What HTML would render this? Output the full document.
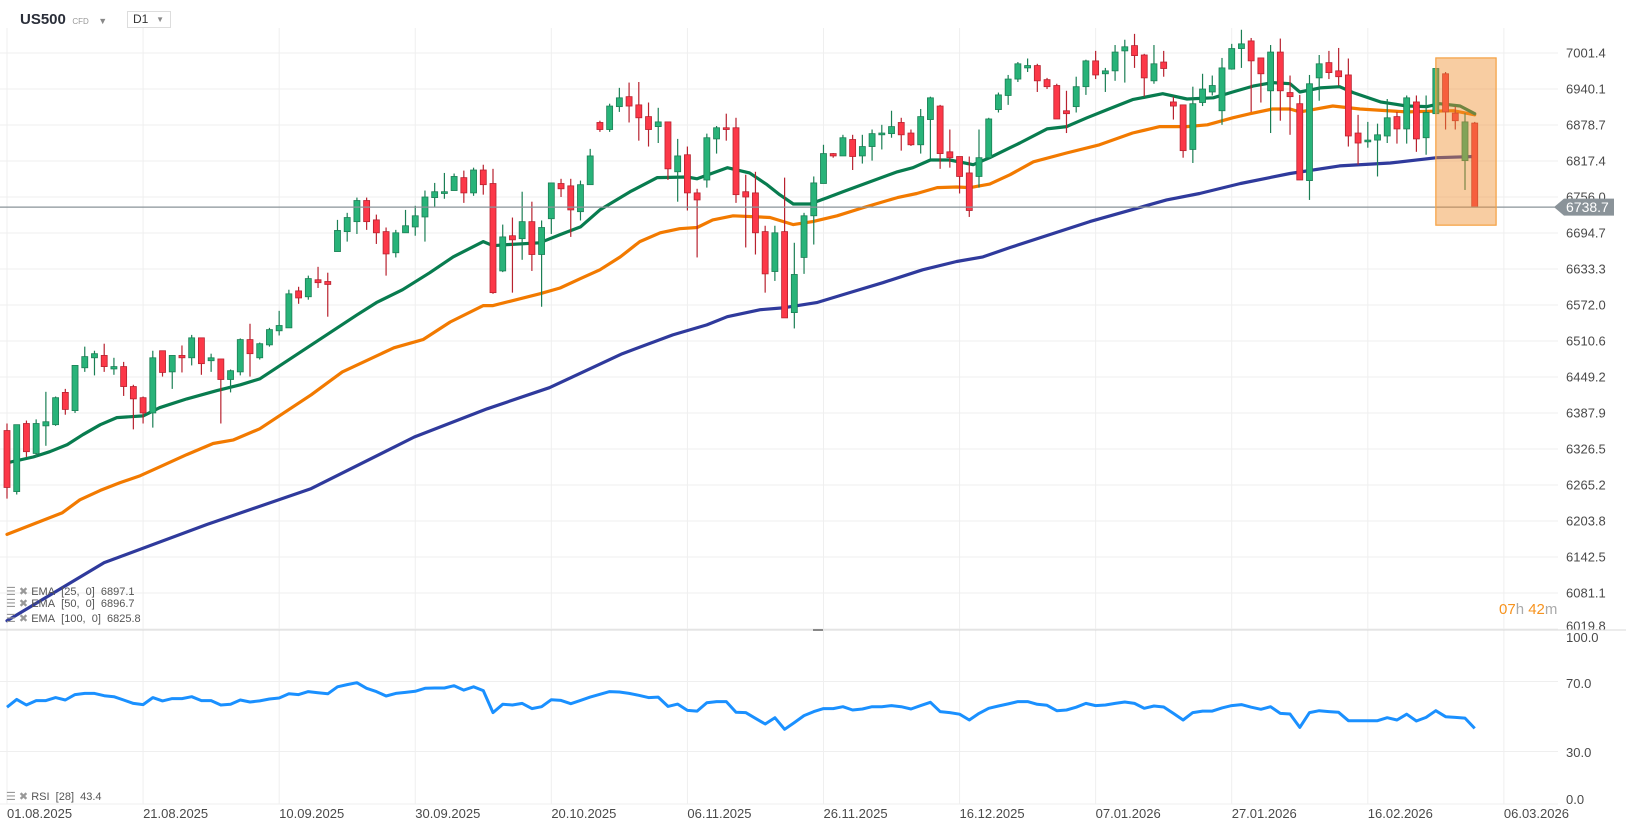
<!DOCTYPE html>
<html><head><meta charset="utf-8">
<style>
html,body{margin:0;padding:0;background:#fff;width:1626px;height:831px;overflow:hidden;font-family:"Liberation Sans",sans-serif;}
#chart{position:absolute;left:0;top:0;}
.hdr{position:absolute;font-family:"Liberation Sans",sans-serif;}
</style></head>
<body>
<svg id="chart" width="1626" height="831" xmlns="http://www.w3.org/2000/svg">
  <g id="grid"></g>
  <g id="ema"></g>
  <g id="candles"></g>
  <g id="rsi"></g>
  <g id="axes"></g>
</svg>
<div class="hdr" style="left:20px;top:10px;height:20px;line-height:20px;white-space:nowrap;">
  <span style="font-weight:bold;font-size:15px;color:#2a2e39;">US500</span>
  <span style="font-size:8px;color:#999;margin-left:2px;">CFD</span>
  <span style="font-size:9px;color:#888;margin-left:5px;">&#9660;</span>
</div>
<div class="hdr" style="left:127px;top:11px;width:42px;height:15px;border:1px solid #ddd;font-size:12px;color:#333;line-height:15px;">
  <span style="margin-left:5px;">D1</span><span style="position:absolute;right:6px;top:0;font-size:8px;color:#888;">&#9660;</span>
</div>
<div class="hdr" style="left:6px;top:585px;font-size:11px;color:#555;"><span style="color:#999">&#9776; &#10006;</span> EMA&nbsp; [25,&nbsp; 0]&nbsp; 6897.1</div>
<div class="hdr" style="left:6px;top:597px;font-size:11px;color:#555;"><span style="color:#999">&#9776; &#10006;</span> EMA&nbsp; [50,&nbsp; 0]&nbsp; 6896.7</div>
<div class="hdr" style="left:6px;top:612px;font-size:11px;color:#555;"><span style="color:#999">&#9776; &#10006;</span> EMA&nbsp; [100,&nbsp; 0]&nbsp; 6825.8</div>
<div class="hdr" style="left:6px;top:790px;font-size:11px;color:#555;"><span style="color:#999">&#9776; &#10006;</span> RSI&nbsp; [28]&nbsp; 43.4</div>
<div class="hdr" style="left:1499px;top:601px;font-size:15px;"><span style="color:#f7931e">07</span><span style="color:#aaa">h </span><span style="color:#f7931e">42</span><span style="color:#aaa">m</span></div>
<script>
const ohlc=[
[6358,6370,6242,6261],[6254,6368,6249,6368],[6370,6375,6313,6322],[6319,6377,6313,6370],[6366,6424,6332,6373],
[6368,6416,6366,6414],[6423,6429,6385,6394],[6392,6469,6388,6469],[6465,6501,6458,6484],[6482,6494,6452,6489],
[6486,6506,6458,6467],[6463,6482,6453,6467],[6467,6475,6417,6433],[6433,6436,6360,6412],[6414,6416,6370,6388],
[6388,6494,6363,6482],[6494,6494,6450,6457],[6458,6486,6429,6486],[6486,6503,6457,6482],[6482,6521,6469,6516],
[6516,6516,6453,6472],[6477,6489,6458,6482],[6480,6480,6370,6445],[6445,6462,6423,6460],[6458,6515,6452,6513],
[6513,6540,6450,6489],[6482,6508,6479,6506],[6504,6533,6501,6530],[6528,6562,6520,6537],[6533,6598,6533,6591],
[6596,6603,6574,6584],[6586,6622,6581,6617],[6615,6637,6601,6610],[6612,6627,6552,6607],[6663,6717,6663,6699],
[6697,6729,6680,6721],[6714,6755,6693,6750],[6750,6755,6700,6714],[6717,6726,6676,6695],[6697,6704,6622,6659],
[6661,6700,6653,6695],[6695,6734,6695,6707],[6705,6741,6690,6724],[6722,6767,6680,6756],[6755,6780,6739,6765],
[6762,6797,6753,6765],[6767,6796,6767,6791],[6789,6801,6746,6763],[6763,6806,6758,6802],[6802,6811,6760,6777],
[6779,6804,6591,6593],[6630,6709,6628,6688],[6690,6721,6593,6683],[6685,6765,6649,6714],[6714,6748,6630,6658],
[6658,6716,6569,6704],[6719,6780,6693,6780],[6779,6787,6756,6770],[6775,6787,6688,6734],[6731,6784,6716,6777],
[6777,6838,6777,6826],[6883,6886,6867,6871],[6871,6915,6867,6911],[6910,6942,6901,6925],[6927,6951,6883,6911],
[6913,6952,6852,6891],[6893,6917,6842,6871],[6876,6908,6848,6884],[6884,6884,6785,6804],[6799,6855,6748,6826],
[6828,6842,6733,6763],[6763,6770,6653,6751],[6785,6864,6772,6857],[6855,6877,6830,6874],[6874,6898,6852,6871],
[6874,6891,6746,6760],[6765,6794,6670,6756],[6763,6799,6658,6695],[6697,6707,6593,6625],[6629,6707,6613,6695],
[6697,6789,6550,6550],[6559,6678,6532,6624],[6653,6729,6625,6724],[6724,6791,6675,6780],[6779,6845,6779,6830],
[6830,6831,6823,6826],[6826,6862,6826,6857],[6854,6862,6802,6825],[6826,6862,6813,6842],[6842,6871,6818,6864],
[6862,6879,6837,6865],[6864,6903,6857,6876],[6883,6891,6835,6862],[6865,6871,6843,6845],[6845,6906,6830,6893],
[6888,6927,6821,6925],[6911,6913,6804,6830],[6833,6871,6806,6823],[6825,6825,6762,6791],[6797,6825,6722,6733],
[6791,6871,6772,6823],[6823,6891,6823,6889],[6905,6934,6900,6930],[6929,6964,6913,6957],[6957,6986,6952,6983],
[6976,6992,6969,6980],[6980,6983,6935,6954],[6956,6959,6940,6944],[6946,6949,6889,6889],[6903,6937,6865,6898],
[6910,6961,6900,6944],[6944,6990,6930,6988],[6988,7005,6957,6964],[6966,6976,6935,6971],[6971,7015,6954,7003],
[7005,7024,6951,7012],[7014,7034,6976,6997],[6998,7000,6927,6959],[6954,7015,6949,6983],[6986,7005,6961,6975],
[6918,6927,6888,6911],[6913,6913,6823,6835],[6837,6944,6814,6915],[6917,6966,6911,6940],[6935,6963,6929,6946],
[6903,6993,6879,6976],[6974,7017,6973,7009],[7009,7041,6976,7017],[7022,7027,6901,6988],[6993,6993,6917,6966],
[6937,7015,6865,7003],[7003,7026,6886,6937],[6934,6963,6862,6927],[6915,6930,6785,6785],[6784,6964,6751,6949],
[6959,6998,6920,6983],[6985,7005,6957,6968],[6971,7010,6946,6961],[6964,6992,6842,6860],[6865,6896,6811,6848],
[6850,6884,6840,6853],[6853,6881,6791,6862],[6860,6923,6848,6891],[6893,6901,6847,6872],[6872,6929,6847,6925],
[6918,6929,6833,6855],[6857,6929,6828,6900],[6898,6975,6898,6975],[6966,6969,6871,6901],[6899,6910,6871,6886],
[6818,6899,6768,6884],[6882,6884,6739,6739]
];
const ema25Idx=[0,2.7,4.4,6.2,7.8,9.6,11.3,14,15.7,18.5,21.6,24,26,36,38,40.7,43.5,45.9,49,50,51.7,54.8,56.9,59,61,64.1,66.9,70,71,74.1,76.4,78.2,79.5,80.9,82.6,84.4,86,88.8,91.6,93.2,95,97,99.4,101.1,103.2,104.2,107,109,111.1,113.2,115.8,118.9,121.4,124.1,126.1,128.2,130.2,132,133,135.1,137.1,138.5,141.3,144,146.1,147.4,149.5,151];
const ema25Val=[6303,6313,6322,6334,6351,6368,6380,6383,6397,6412,6426,6436,6446,6555,6576,6598,6627,6654,6680,6673,6675,6678,6692,6705,6734,6765,6789,6790,6787,6806,6797,6777,6760,6744,6744,6755,6765,6782,6799,6806,6819,6819,6811,6823,6840,6848,6872,6876,6891,6905,6922,6932,6923,6925,6935,6945,6951,6949,6935,6942,6944,6934,6918,6911,6910,6915,6911,6898];
const ema50Idx=[0,5.7,7.5,9.6,11.6,13.7,15.7,18.5,21.2,23.3,26,31.3,34.5,39.8,42.8,45.6,49,50,51.7,54.8,56.9,59,61,63.1,65.1,67.2,69.2,71,72.6,74.7,77.5,78.5,80.9,82.9,85.4,88.1,91.6,93.6,95.7,97.7,99.1,101.1,103.2,105.6,109,112.4,115.8,118.6,121.4,123.5,126.1,127.9,130.2,132,133,136.4,139.2,144,148.8,151];
const ema50Val=[6181,6218,6240,6256,6269,6281,6296,6317,6336,6342,6361,6419,6458,6499,6513,6543,6571,6571,6578,6591,6601,6617,6632,6654,6680,6695,6702,6704,6717,6724,6722,6721,6709,6714,6724,6738,6755,6762,6772,6773,6772,6778,6794,6816,6831,6845,6865,6876,6876,6879,6891,6898,6906,6906,6901,6911,6906,6901,6903,6896];
const ema100Idx=[0,10,20.6,31.3,41.9,49.4,55.8,63.3,68.5,72,74.1,77.5,79.8,83.3,86.7,90.1,94.2,97.7,100.4,103.2,111.4,119.3,122.7,126.9,132,137.1,142.3,147.1,151];
const ema100Val=[6034,6133,6198,6259,6347,6395,6431,6489,6521,6538,6552,6564,6567,6576,6593,6610,6632,6646,6654,6670,6714,6751,6762,6779,6796,6809,6814,6823,6825];
const rsiVals=[55.3,59.8,56.6,59.1,59.1,60.8,59.4,62.5,63.2,63.2,61.9,61.3,59.4,57.5,56.8,60.8,58.9,60.2,60.2,61.3,59.1,59.1,56.6,57,59.4,58.3,58.9,60,60.6,63,62.5,64.2,63.6,63,67,68.2,69.3,66.1,64.2,61.7,63.2,63.8,64.4,66.1,66.3,66.3,67.6,65.1,67,64.8,52.2,57,56.6,57.5,54.5,55.6,59.6,59.2,57.3,59.2,61.1,62.7,64.2,64,63.2,62.1,60.8,61.1,55.8,57.1,53.5,53.1,57.9,58.5,58.5,52.4,52.2,
48.95,45.7,49.3,42.7,46.5,50.5,52.8,54.5,54.5,55.6,53.7,54.3,55.6,55.6,56.2,55.6,54.3,56.2,58.1,52.8,52.2,51.3,48,51.8,54.7,56,57.2,58.5,58.5,57,56.4,53.3,53.7,55.3,57.5,56.2,56.6,57.5,58.3,57.5,54.7,56,55.4,51.8,48,52.2,53.1,53.1,54.9,56.2,56.8,55.3,54.1,55.6,51.8,51.4,43.8,52.2,53.3,52.8,52.4,47.6,47.6,47.6,47.6,49.3,48,51.3,47.4,49.5,53.3,49.9,49.5,49.1,43.2];
const priceTicks=[7001.4,6940.1,6878.7,6817.4,6756.0,6694.7,6633.3,6572.0,6510.6,6449.2,6387.9,6326.5,6265.2,6203.8,6142.5,6081.1,6019.8];
const rsiTicks=[100,70,30,0];
const dateLabels=['01.08.2025','21.08.2025','10.09.2025','30.09.2025','20.10.2025','06.11.2025','26.11.2025','16.12.2025','07.01.2026','27.01.2026','16.02.2026','06.03.2026'];
const lastPrice=6738.7;
const highlightFrom=147, highlightTo=153.2, highlightHigh=6993, highlightLow=6708;

const NS='http://www.w3.org/2000/svg';
const X=i=>7+i*9.72;
const Y=p=>53+(7001.4-p)*36/61.35;
const RY=v=>804-v*1.75;
function mk(tag,attrs,parent){const e=document.createElementNS(NS,tag);for(const k in attrs)e.setAttribute(k,attrs[k]);parent.appendChild(e);return e;}
const grid=document.getElementById('grid'),emaG=document.getElementById('ema'),cg=document.getElementById('candles'),rg=document.getElementById('rsi'),ax=document.getElementById('axes');

// grid
priceTicks.forEach((p,k)=>{const y=Y(p);const l=mk('line',{x1:0,x2:1558,y1:y,y2:y,stroke:'#efefef','stroke-width':1},grid);


const t=mk('text',{x:1566,y:(k===16?626:y)+4.5,'font-size':13,fill:'#4a4a4a','font-family':'Liberation Sans, sans-serif'},ax);t.textContent=p.toFixed(1);

});
rsiTicks.forEach(v=>{const y=RY(v);const l=mk('line',{x1:0,x2:1558,y1:y,y2:y,stroke:'#efefef','stroke-width':1},grid);


const ty={100:642,70:688,30:757,0:804}[v];
const t=mk('text',{x:1566,y:ty-0,'font-size':13,fill:'#4a4a4a','font-family':'Liberation Sans, sans-serif'},ax);t.textContent=v.toFixed(1);

});
dateLabels.forEach((d,k)=>{const x=X(k*14);const l=mk('line',{x1:x,x2:x,y1:28,y2:804,stroke:'#efefef','stroke-width':1},grid);


const t=mk('text',{x:x,y:818,'font-size':13,fill:'#4a4a4a','font-family':'Liberation Sans, sans-serif'},ax);t.textContent=d;

});
const sep=mk('line',{x1:0,x2:1626,y1:630,y2:630,stroke:'#d8d8d8','stroke-width':1},ax);


const hdl=mk('rect',{x:813,y:629,width:10,height:2,fill:'#888'},ax);



// EMAs
function emaLine(idx,val,color,name){const d=idx.map((i,k)=>(k?'L':'M')+X(i).toFixed(1)+','+Y(val[k]).toFixed(1)).join(' ');
const p=mk('path',{d:d,fill:'none',stroke:color,'stroke-width':3.2,'stroke-linejoin':'round','stroke-linecap':'round'},emaG);

}
emaLine(ema100Idx,ema100Val,'#2f3a9c','ema-100-line');
emaLine(ema50Idx,ema50Val,'#f27a00','ema-50-line');
emaLine(ema25Idx,ema25Val,'#087c4f','ema-25-line');

// candles
ohlc.forEach((c,i)=>{const [o,h,l,cl]=c;const up=cl>=o;const x=X(i);
const fill=up?'#28b379':'#fc3848', st=up?'#1b7f55':'#b8222f';
const w=mk('line',{x1:x,x2:x,y1:Y(h),y2:Y(l),stroke:st,'stroke-width':1.2},cg);


const top=Y(Math.max(o,cl)),bot=Y(Math.min(o,cl));
const b=mk('rect',{x:x-3,y:top,width:6,height:Math.max(1.5,bot-top),fill:fill,stroke:st,'stroke-width':0.8},cg);

});

// current price line
const pl=mk('line',{x1:0,x2:1556,y1:Y(lastPrice),y2:Y(lastPrice),stroke:'#8a9399','stroke-width':1.2},ax);


const ly=Y(lastPrice);
const tag=mk('path',{d:`M1554,${ly} L1564,${ly-8.5} L1614,${ly-8.5} L1614,${ly+8.5} L1564,${ly+8.5} Z`,fill:'#8a9399'},ax);


const tt=mk('text',{x:1566,y:ly+5,'font-size':14,fill:'#fff','font-family':'Liberation Sans, sans-serif'},ax);tt.textContent=lastPrice.toFixed(1);



// highlight box
const hb=mk('rect',{x:X(highlightFrom),y:Y(highlightHigh),width:X(highlightTo)-X(highlightFrom),height:Y(highlightLow)-Y(highlightHigh),fill:'rgba(240,144,48,0.45)',stroke:'#f5a040','stroke-width':1.2},ax);



// RSI
const rd=rsiVals.map((v,i)=>(i?'L':'M')+X(i).toFixed(1)+','+RY(v).toFixed(1)).join(' ');
const rp=mk('path',{d:rd,fill:'none',stroke:'#1a90ff','stroke-width':3,'stroke-linejoin':'round'},rg);


</script>
</body></html>
